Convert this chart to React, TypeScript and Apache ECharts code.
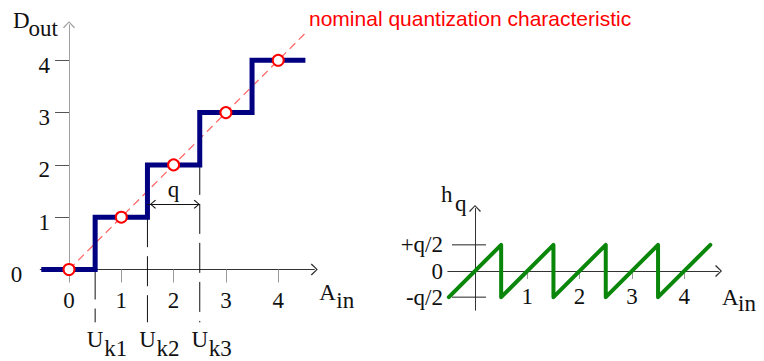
import { useEffect, useRef } from "react";
import * as echarts from "echarts";

// Quantizer: output levels and the input thresholds (U_k) between them
const levels = [0, 1, 2, 3, 4];
const thresholds = [0.5, 1.5, 2.5, 3.5];
const thresholdNames = ["k1", "k2", "k3"];
const inputStart = -0.53;
const inputEnd = 4.52;
const idealEnd = 4.55;
const thresholdLineBottom = -1.01;
const stepArrowY = 1.25;

// Tick values and labels
const inTicks = [0, 1, 2, 3, 4];
const outTicks = [1, 2, 3, 4];
const errInTicks = [1, 2, 3, 4];
const errValues = [-0.5, 0, 0.5];
const errLabels = ["-q/2", "0", "+q/2"];
const errTickFrom = -0.44;
const errTickTo = 0.21;

// Layout (pixels per unit and axis origins)
const UNIT = 52.3;
const LEFT = { ox: 69, oy: 269.5, xMin: -0.55, xMax: 4.69, yMin: 0, yMax: 4.68 };
const RIGHT = { ox: 475, oy: 271, xMin: -0.52, xMax: 4.656, yMin: -0.75, yMax: 1.195 };

const SERIF_NAME = "Liberation Serif";
const SANS_NAME = "Liberation Sans";
const ARROW = "path://M0 6 L6 0 L12 6 L11 7 L6 1.6 L1 7 Z";

// Staircase D_out(A_in)
const stair: number[][] = [[inputStart, levels[0]]];
thresholds.forEach((t, i) => {
  stair.push([t, levels[i]], [t, levels[i + 1]]);
});
stair.push([inputEnd, levels[levels.length - 1]]);

// Quantization error h_q = A_in - D_out
const saw: number[][] = [[-0.5, -0.5 - levels[0]]];
thresholds.forEach((t, i) => {
  saw.push([t, t - levels[i]], [t, t - levels[i + 1]]);
});
saw.push([4.5, 4.5 - levels[levels.length - 1]]);

const ideal = levels.map((l) => [l, l]);

function gridOf(g: typeof LEFT) {
  return {
    left: g.ox + g.xMin * UNIT,
    top: g.oy - g.yMax * UNIT,
    width: (g.xMax - g.xMin) * UNIT,
    height: (g.yMax - g.yMin) * UNIT,
    containLabel: false,
    outerBoundsMode: "none",
  };
}

const serifText = { fontFamily: SERIF_NAME, fontSize: 23, color: "#111" };

// tick label in the serif face
function serifLabel(extra: any, fmt: (v: number) => string = (v) => String(v)) {
  return {
    ...serifText,
    ...extra,
    formatter: (v: number) => `{s|${fmt(v)}}`,
    rich: { s: { ...serifText } },
  };
}

function axisLineStyle(color: string) {
  return {
    onZero: false,
    symbol: ["none", ARROW],
    symbolSize: [12, 7],
    lineStyle: { color, width: 1 },
  };
}

export default function App() {
  const ref = useRef<HTMLDivElement>(null);

  useEffect(() => {
    const chart = echarts.init(ref.current!, null, { renderer: "svg" });

    const option: any = {
      animation: false,
      textStyle: { fontFamily: SERIF_NAME },
      grid: [gridOf(LEFT), gridOf(RIGHT)],
      xAxis: [
        {
          type: "value",
          gridIndex: 0,
          min: LEFT.xMin,
          max: LEFT.xMax,
          offset: LEFT.yMin * UNIT,
          splitLine: { show: false },
          axisLine: axisLineStyle("#333"),
          axisTick: { customValues: inTicks, length: 13, lineStyle: { color: "#999" } },
          axisLabel: serifLabel({ customValues: inTicks, margin: 31, verticalAlign: "middle" }),
        },
        {
          type: "value",
          gridIndex: 1,
          min: RIGHT.xMin,
          max: RIGHT.xMax,
          // place the axis on h = 0
          offset: RIGHT.yMin * UNIT,
          splitLine: { show: false },
          axisLine: axisLineStyle("#333"),
          axisTick: { customValues: errInTicks, length: 8, lineStyle: { color: "#999" } },
          axisLabel: serifLabel({ customValues: errInTicks, margin: 25, verticalAlign: "middle" }),
        },
      ],
      yAxis: [
        {
          type: "value",
          gridIndex: 0,
          min: LEFT.yMin,
          max: LEFT.yMax,
          // place the axis on A_in = 0
          offset: LEFT.xMin * UNIT,
          splitLine: { show: false },
          axisLine: axisLineStyle("#a0a0a0"),
          axisTick: { customValues: outTicks, length: 14, lineStyle: { color: "#555" } },
          axisLabel: serifLabel({ customValues: outTicks, margin: 19, padding: [10, 0, 0, 0] }),
        },
        {
          type: "value",
          gridIndex: 1,
          min: RIGHT.yMin,
          max: RIGHT.yMax,
          offset: RIGHT.xMin * UNIT,
          splitLine: { show: false },
          axisLine: axisLineStyle("#333"),
          axisTick: { show: false },
          axisLabel: serifLabel(
            { customValues: errValues, margin: 32 },
            (v) => errLabels[errValues.indexOf(v)] ?? ""
          ),
        },
      ],
      series: [
        // U_k threshold markers
        ...thresholds.slice(0, 3).map((t, i) => ({
          type: "line",
          xAxisIndex: 0,
          yAxisIndex: 0,
          clip: false,
          symbol: "none",
          silent: true,
          z: 1,
          data: [
            [t, levels[i]],
            [t, thresholdLineBottom],
          ],
          lineStyle: { color: "#111", width: 1, type: [30, 9] },
        })),
        {
          type: "line",
          xAxisIndex: 0,
          yAxisIndex: 0,
          clip: false,
          symbol: "none",
          z: 2,
          data: [
            [0, 0],
            [idealEnd, idealEnd],
          ],
          lineStyle: { color: "#ff6060", width: 1.2, type: [8, 5] },
        },
        {
          type: "line",
          xAxisIndex: 0,
          yAxisIndex: 0,
          clip: false,
          symbol: "none",
          z: 3,
          data: stair,
          lineStyle: { color: "#000080", width: 5, join: "miter", cap: "butt" },
        },
        {
          type: "scatter",
          xAxisIndex: 0,
          yAxisIndex: 0,
          clip: false,
          z: 4,
          symbol: "circle",
          symbolSize: 11,
          data: ideal,
          itemStyle: { color: "#ffffff", borderColor: "#ff0000", borderWidth: 2, opacity: 1 },
        },
        // step width q between two thresholds
        {
          type: "line",
          xAxisIndex: 0,
          yAxisIndex: 0,
          z: 5,
          data: [],
          markLine: {
            silent: true,
            symbol: [ARROW, ARROW],
            symbolSize: [9, 6],
            symbolOffset: [
              [0, 5.5],
              [0, 3],
            ],
            lineStyle: { color: "#111", width: 1, type: "solid" },
            label: {
              show: true,
              position: "middle",
              formatter: "q",
              distance: 3,
              ...serifText,
            },
            data: [
              [
                { coord: [thresholds[1], stepArrowY] },
                { coord: [thresholds[2], stepArrowY] },
              ],
            ],
          },
        },
        // Error characteristic
        ...errValues
          .filter((v) => v !== 0)
          .map((v) => ({
            type: "line",
            xAxisIndex: 1,
            yAxisIndex: 1,
            clip: false,
            symbol: "none",
            z: 1,
            data: [
              [errTickFrom, v],
              [errTickTo, v],
            ],
            lineStyle: { color: "#222", width: 1 },
          })),
        {
          type: "line",
          xAxisIndex: 1,
          yAxisIndex: 1,
          clip: false,
          symbol: "none",
          z: 3,
          data: saw,
          lineStyle: { color: "#0a870a", width: 4, join: "round", cap: "round" },
        },
      ],
    };

    chart.setOption(option);

    const px = (g: number, x: number, y: number) =>
      chart.convertToPixel({ gridIndex: g } as any, [x, y]) as number[];

    const text = (
      s: string,
      x: number,
      y: number,
      align: string,
      font: string,
      fill = "#111"
    ) => ({
      type: "text",
      x,
      y,
      silent: true,
      style: { text: s, font, fill, textAlign: align, textVerticalAlign: "middle" },
    });
    const serif = `23px "${SERIF_NAME}"`;

    const graphic: any[] = [];
    graphic.push(
      text("nominal quantization characteristic", 309, 18, "left", `21px "${SANS_NAME}"`, "#ff0000")
    );

    // Left chart axis names
    const lTop = px(0, 0, LEFT.yMax);
    graphic.push(text("D", lTop[0] - 56, lTop[1] - 4, "left", serif));
    graphic.push(text("out", lTop[0] - 40.5, lTop[1] + 3.5, "left", serif));
    const lZero = px(0, 0, 0);
    graphic.push(text("0", lZero[0] - 52.5, lZero[1] + 5, "center", serif));
    const lEnd = px(0, LEFT.xMax, 0);
    graphic.push(text("A", lEnd[0] + 5, lEnd[1] + 23, "left", serif));
    graphic.push(text("in", lEnd[0] + 22, lEnd[1] + 31, "left", serif));

    thresholdNames.forEach((name, i) => {
      const p = px(0, thresholds[i], thresholdLineBottom);
      graphic.push(text("U", p[0], p[1] + 17, "center", serif));
      graphic.push(text(name, p[0] + 9, p[1] + 26, "left", serif));
    });

    // Right chart axis names
    const rTop = px(1, 0, RIGHT.yMax);
    graphic.push(text("h", rTop[0] - 34, rTop[1] - 14.5, "left", serif));
    graphic.push(text("q", rTop[0] - 20, rTop[1] - 5.5, "left", serif));
    const rEnd = px(1, RIGHT.xMax, 0);
    graphic.push(text("A", rEnd[0] + 3.5, rEnd[1] + 26, "left", serif));
    graphic.push(text("in", rEnd[0] + 19.5, rEnd[1] + 32, "left", serif));

    chart.setOption({ graphic });

    return () => chart.dispose();
  }, []);

  return (
    <div
      ref={ref}
      style={{ position: "absolute", left: 0, top: 0, width: 764, height: 361, background: "#fff" }}
    />
  );
}
